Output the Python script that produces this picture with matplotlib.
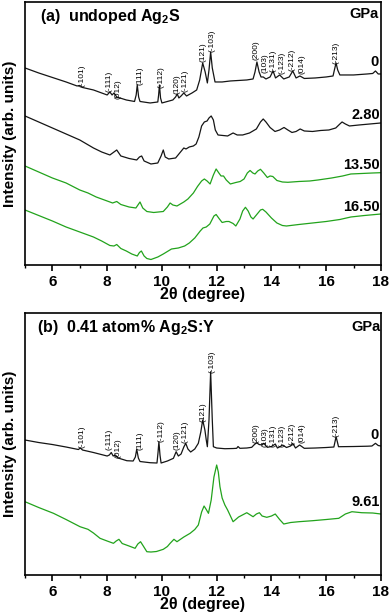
import matplotlib
matplotlib.use("Agg")
import matplotlib.pyplot as plt
from matplotlib.ticker import MultipleLocator

plt.rcParams['font.family'] = ['Liberation Sans', 'DejaVu Sans']
plt.rcParams['mathtext.fontset'] = 'custom'
plt.rcParams['mathtext.rm'] = 'Liberation Sans:bold'
plt.rcParams['mathtext.bf'] = 'Liberation Sans:bold'

# ---------------- data (2theta in degrees, intensity in arb. units) ----------------
# panel (a) undoped Ag2S
a0_x = [5.0, 5.5, 6.0, 6.5, 6.9, 7.0, 7.1, 7.5, 8.0, 8.1, 8.18, 8.25, 8.35, 8.7, 9.0, 9.06, 9.1, 9.15, 9.2,
        9.57, 9.85, 9.88, 9.91, 9.95, 10.0, 10.4, 10.5, 10.56, 10.62, 10.7, 10.8, 10.9, 11.1, 11.27, 11.38,
        11.49, 11.58, 11.66, 11.72, 11.78, 11.84, 11.94, 12.2, 12.5, 12.8, 13.1, 13.33, 13.4, 13.47, 13.55,
        13.62, 13.7, 13.8, 13.95, 14.06, 14.15, 14.3, 14.45, 14.65, 14.78, 14.9, 15.04, 15.2, 15.6, 16.0,
        16.25, 16.3, 16.36, 16.42, 16.5, 17.0, 17.5, 17.7, 17.8, 17.9, 18.0]
a0_y = [197, 192, 187.5, 183, 179, 179.5, 177.5, 175, 170, 173, 170, 172, 168, 165, 163.5, 170, 180, 168, 163.5,
        162, 163, 170, 180, 167, 162, 165, 168, 171, 167, 169, 172, 169, 172, 175, 185,
        202, 193, 182, 195, 213, 197, 183, 183, 184, 184.5, 185, 186, 193, 203, 193,
        188, 188, 186, 188, 194, 187, 190, 186, 188, 194, 187, 189, 186.5, 187, 188,
        189, 195, 202, 195, 190, 190, 191, 191.5, 194, 191, 191]

a280_x = [5.0, 5.5, 6.0, 6.5, 7.0, 7.25, 7.5, 7.8, 8.1, 8.2, 8.35, 8.5, 8.8, 9.08, 9.18, 9.26, 9.35, 9.6, 9.85,
          9.97, 10.05, 10.12, 10.25, 10.5, 10.65, 10.8, 10.88, 11.0, 11.15, 11.25, 11.35, 11.45, 11.55, 11.65,
          11.72, 11.8, 11.88, 11.95, 12.05, 12.4, 12.6, 12.75, 12.95, 13.2, 13.45, 13.6, 13.7, 13.8, 13.95,
          14.13, 14.3, 14.46, 14.6, 14.75, 14.9, 15.05, 15.2, 15.5, 15.8, 16.1, 16.35, 16.5, 16.58, 16.7,
          16.85, 17.2, 17.6, 18.0]
a280_y = [149, 143, 137, 131, 125, 121, 117, 113, 110, 112, 115, 109, 106.5, 105, 108, 109, 104, 101, 102,
          109, 115, 108, 106, 107, 112, 117, 116, 118, 119, 121, 128, 139, 143, 144,
          147, 149, 145, 135, 130, 129, 132, 130, 130, 132, 136, 143, 146, 143, 137.5,
          133.5, 135, 137.5, 135, 132.5, 133.5, 136, 134, 133.5, 134.5, 135, 137, 141, 143, 141,
          139, 140, 141, 142]

a1350_x = [5.0, 5.5, 6.0, 6.5, 7.0, 7.3, 7.6, 8.0, 8.2, 8.35, 8.5, 8.8, 9.05, 9.2, 9.3, 9.45, 9.7, 10.05, 10.2,
           10.3, 10.4, 10.55, 10.8, 10.95, 11.15, 11.3, 11.45, 11.55, 11.65, 11.76, 11.88, 11.98, 12.08, 12.16,
           12.25, 12.35, 12.5, 12.7, 12.86, 13.0, 13.12, 13.22, 13.32, 13.4, 13.5, 13.6, 13.72, 13.85, 13.95,
           14.05, 14.2, 14.4, 14.6, 15.0, 15.4, 15.7, 16.2, 16.6, 16.9, 17.3, 17.7, 18.0]
a1350_y = [99, 93, 87, 82, 75, 72, 68, 64, 62, 63.5, 60.5, 58, 57, 63, 57, 53.5, 52.5, 53.5, 58,
           62, 60, 59, 63, 66, 72, 78.5, 84, 86, 84, 81, 90, 96, 92, 89,
           89, 85, 81, 82.5, 83.5, 86, 92, 94.5, 92, 91, 94, 95.7, 92, 87.5, 89,
           88.5, 84.5, 83, 82.7, 83.5, 84, 85, 87, 89, 91, 91.5, 92, 92.3]

a1650_x = [5.0, 5.5, 6.0, 6.5, 7.0, 7.5, 7.8, 8.1, 8.25, 8.35, 8.5, 8.7, 8.9, 9.1, 9.18, 9.25, 9.35, 9.45, 9.6,
           9.85, 10.05, 10.2, 10.35, 10.6, 10.83, 11.0, 11.2, 11.4, 11.5, 11.62, 11.75, 11.9, 11.98, 12.1,
           12.2, 12.35, 12.45, 12.6, 12.7, 12.85, 12.95, 13.05, 13.15, 13.25, 13.33, 13.45, 13.6, 13.68,
           13.8, 14.0, 14.2, 14.4, 14.55, 15.0, 15.5, 16.0, 16.5, 16.9, 17.4, 18.0]
a1650_y = [55, 49.5, 44, 38, 33, 28, 24, 19.5, 19, 20.5, 16.5, 14, 11, 9, 12.5, 14, 9, 6.5, 5.5,
           8, 11, 13.5, 16, 17, 19, 22, 27, 34, 37, 38, 41, 49, 50.5, 46,
           42.5, 43.5, 43.5, 41.5, 39, 46, 54, 57.7, 54, 48, 46, 50, 55, 55.7,
           53, 47, 42, 39.5, 39, 40.5, 42, 43.5, 45.5, 48, 49.5, 51]

# panel (b) 0.41 atom% Ag2S:Y
b0_x = [5.0, 5.5, 6.0, 6.5, 6.95, 7.02, 7.1, 7.5, 8.0, 8.08, 8.15, 8.22, 8.3, 8.4, 8.72, 8.95, 9.03, 9.08, 9.14,
        9.2, 9.57, 9.82, 9.86, 9.89, 9.93, 9.97, 10.2, 10.42, 10.52, 10.6, 10.7, 10.8, 10.87, 10.95, 11.05,
        11.2, 11.33, 11.42, 11.49, 11.57, 11.62, 11.66, 11.72, 11.78, 11.84, 11.88, 12.0, 12.3, 12.6, 12.73,
        12.78, 12.85, 13.1, 13.28, 13.38, 13.46, 13.55, 13.66, 13.72, 13.85, 14.0, 14.14, 14.22, 14.32,
        14.41, 14.55, 14.7, 14.78, 14.88, 15.03, 15.2, 15.6, 16.0, 16.28, 16.32, 16.36, 16.41, 16.45, 17.0,
        17.5, 17.67, 17.8, 17.9, 18.0]
b0_y = [135, 132.5, 130.5, 128, 125.5, 127, 125, 122.5, 119, 120, 122.5, 119, 120, 117, 114.3, 114, 118, 125.7, 117,
        113.5, 112.3, 112, 123, 133.3, 120, 112, 114, 116.7, 123.3, 119, 121, 128, 131.7, 126, 123,
        126, 131.7, 143, 155, 145, 135, 128.3, 155, 203.3, 155, 128.3, 127, 126.3, 126.5, 126.7,
        128.5, 126.7, 127, 127.7, 130.5, 132.3, 130.5, 130, 131.7, 127.7, 128.5, 131, 127, 128.5,
        130, 127.5, 129, 131.7, 127, 130, 126.7, 127, 127.5, 128, 133, 138.3, 133, 128.3, 128.5,
        128.8, 129, 131.7, 129.5, 129]

b961_x = [5.0, 5.5, 6.04, 6.5, 7.01, 7.3, 7.5, 7.74, 8.0, 8.23, 8.33, 8.43, 8.55, 8.8, 9.02, 9.12, 9.22, 9.32,
          9.45, 9.6, 9.8, 10.05, 10.2, 10.3, 10.44, 10.55, 10.8, 11.03, 11.2, 11.33, 11.45, 11.54, 11.62,
          11.7, 11.8, 11.9, 12.0, 12.06, 12.12, 12.2, 12.3, 12.4, 12.6, 12.8, 13.1, 13.33, 13.45, 13.56,
          13.66, 13.83, 14.0, 14.14, 14.3, 14.45, 14.7, 15.0, 15.5, 16.0, 16.46, 16.7, 16.94, 17.3, 17.7, 18.0]
b961_y = [73.3, 67.5, 61.7, 55.5, 48.3, 45.7, 42, 36.7, 34, 31.7, 34, 35.7, 31.5, 29, 26.7, 31, 33.3, 29,
          23.3, 23, 23.5, 25.7, 28.5, 31.7, 35.7, 33.3, 38, 41.7, 45.5, 50, 63, 69, 65.5,
          61.7, 75, 98, 110, 103, 88.3, 77, 70, 65, 53.3, 58, 62.3, 58.3, 61, 62.3,
          59, 57.7, 59, 61, 55.5, 51, 52.5, 53.3, 54.3, 55.5, 56.7, 61, 63.3, 62.3, 62, 61]

# Miller indices of the reflections and their 2theta positions
hkl_labels = ['(-101)', '(-111)', '(012)', '(111)', '(-112)', '(120)', '(-121)', '(121)', '(-103)',
              '(200)', '(103)', '(-131)', '(-123)', '(-212)', '(014)', '(-213)']
hkl_pos = [7.07, 8.07, 8.40, 9.20, 9.96, 10.55, 10.86, 11.49, 11.82,
           13.43, 13.75, 14.06, 14.39, 14.74, 15.11, 16.36]
hkl_a_level = [178, 173, 166, 180, 177, 171, 173, 203, 213, 205, 192, 193, 191, 194, 191, 201]
hkl_b_level = [127, 125, 117, 125, 133.3, 125, 132, 153.3, 202, 132, 128.3, 128.3, 128.3, 130, 132, 138.3]

xticks = [6, 8, 10, 12, 14, 16, 18]

BLACK = '#151515'
GREEN = '#22a31c'

fig = plt.figure(figsize=(3.92, 6.14), dpi=100)
axa = fig.add_axes([0.0638, 0.5684, 0.908, 0.4276])
axb = fig.add_axes([0.0638, 0.0635, 0.908, 0.4267])


def style(ax, ytop):
    ax.set_xlim(5, 18)
    ax.set_ylim(0, ytop)
    ax.set_xticks(xticks)
    ax.xaxis.set_minor_locator(MultipleLocator(1))
    ax.set_yticks([])
    ax.tick_params(axis='x', which='major', direction='out', length=4, width=1.2, pad=3,
                   labelsize=11)
    ax.tick_params(axis='x', which='minor', direction='out', length=2.5, width=1.0)
    for lab in ax.get_xticklabels():
        lab.set_fontweight('bold')
    for s in ax.spines.values():
        s.set_linewidth(1.2)
    ax.set_xlabel('2\u03b8 (degree)', fontsize=11.5, fontweight='bold', labelpad=-1)
    ax.set_ylabel('Intensity (arb. units)', fontsize=11, fontweight='bold')
    ax.yaxis.set_label_coords(-0.022, 0.5)


style(axa, 262.5)
style(axb, 262)

lw = 0.9
axa.plot(a0_x, a0_y, color=BLACK, lw=lw)
axa.plot(a280_x, a280_y, color=BLACK, lw=lw)
axa.plot(a1350_x, a1350_y, color=GREEN, lw=lw)
axa.plot(a1650_x, a1650_y, color=GREEN, lw=lw)

axb.plot(b0_x, b0_y, color=BLACK, lw=lw)
axb.plot(b961_x, b961_y, color=GREEN, lw=lw)

for lab, x, ya, yb in zip(hkl_labels, hkl_pos, hkl_a_level, hkl_b_level):
    axa.text(x, ya, lab, rotation=90, ha='center', va='bottom', fontsize=6)
    axb.text(x, yb, lab, rotation=90, ha='center', va='bottom', fontsize=6)

# titles and pressure labels
axa.text(5.55, 248, r'(a)  undoped Ag$_\mathbf{2}$S', fontsize=11.5, fontweight='bold', va='center', ha='left')
axb.text(5.44, 248, r'(b)  0.41 atom% Ag$_\mathbf{2}$S:Y', fontsize=11.5, fontweight='bold', va='center', ha='left')
axa.text(17.92, 251, 'GPa', fontsize=10.5, fontweight='bold', va='center', ha='right')
axb.text(17.98, 248, 'GPa', fontsize=10.5, fontweight='bold', va='center', ha='right')

axa.text(17.93, 203, '0', fontsize=10.5, fontweight='bold', va='center', ha='right')
axa.text(17.97, 150, '2.80', fontsize=10.5, fontweight='bold', va='center', ha='right')
axa.text(17.97, 100, '13.50', fontsize=10.5, fontweight='bold', va='center', ha='right')
axa.text(17.97, 58, '16.50', fontsize=10.5, fontweight='bold', va='center', ha='right')
axb.text(17.93, 140, '0', fontsize=10.5, fontweight='bold', va='center', ha='right')
axb.text(17.97, 73, '9.61', fontsize=10.5, fontweight='bold', va='center', ha='right')

fig.savefig('out.png', dpi=100)
